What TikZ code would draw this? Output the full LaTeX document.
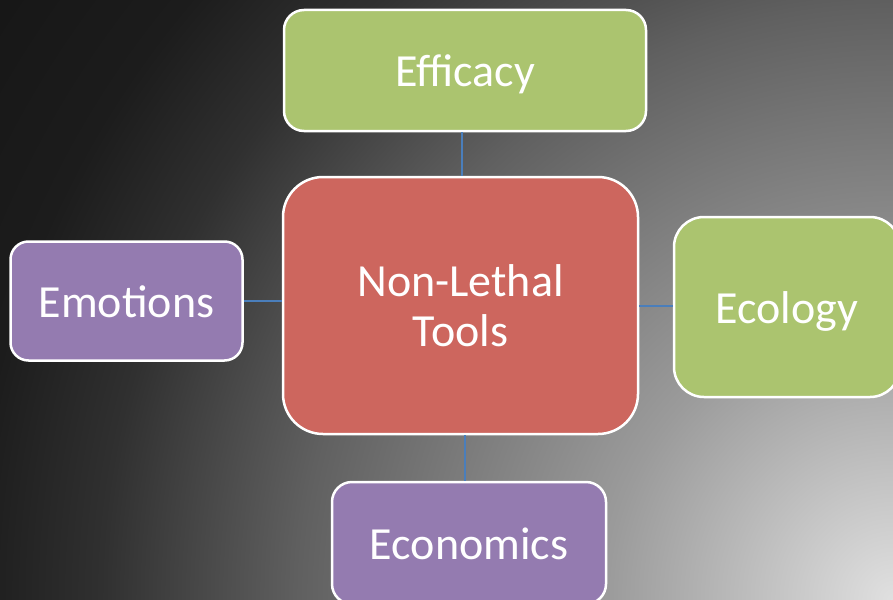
\documentclass[tikz,border=0pt]{standalone}
\usepackage{fontspec}
\setmainfont{Carlito}
\definecolor{boxgreen}{HTML}{ABC46F}
\definecolor{boxred}{HTML}{CD665E}
\definecolor{boxpurple}{HTML}{947BB0}
\definecolor{linkblue}{HTML}{4A7EBB}
\definecolor{g0}{RGB}{224,224,224}
\definecolor{g1}{RGB}{155,155,155}
\definecolor{g2}{RGB}{96,96,96}
\definecolor{g3}{RGB}{48,48,48}
\definecolor{g4}{RGB}{28,28,28}
\definecolor{g5}{RGB}{22,22,22}
\pgfdeclareradialshading{bgshade}{\pgfpoint{0bp}{0bp}}{color(0bp)=(g0); color(6.5bp)=(g1); color(13.5bp)=(g2); color(18bp)=(g3); color(21bp)=(g4); color(25bp)=(g5); color(50bp)=(g5)}
\tikzset{
  box/.style={draw=white, line width=2.5pt, text=white, align=center,
    font=\fontsize{46}{50}\selectfont, inner sep=0pt},
  oneline/.style={text height=36pt, text depth=4pt},
  link/.style={draw=linkblue, line width=2pt}
}
\begin{document}
\begin{tikzpicture}[x=1pt,y=-1pt]
\useasboundingbox (0,0) rectangle (893,599);
\clip (0,0) rectangle (893,599);
\shade[shading=bgshade] (893,599) circle (1100);
\node[box, oneline, fill=boxgreen, rounded corners=20pt, minimum width=362pt, minimum height=121pt] (efficacy) at (465,70.5) {Efficacy};
\node[box, fill=boxred, rounded corners=40pt, minimum width=355pt, minimum height=257pt] (center) at (460.5,305.5) {Non-Lethal\\Tools};
\node[box, oneline, fill=boxpurple, rounded corners=18pt, minimum width=232pt, minimum height=119pt] (emotions) at (126.5,301) {Emotions};
\node[box, oneline, fill=boxgreen, rounded corners=30pt, minimum width=226pt, minimum height=180pt] (ecology) at (787,307) {Ecology};
\node[box, oneline, fill=boxpurple, rounded corners=20pt, minimum width=274pt, minimum height=122pt] (economics) at (469,543) {Economics};
\draw[link] ([xshift=1.5pt]center.north) -- ([xshift=1.5pt]center.north |- efficacy.south);
\draw[link] (emotions.east) -- (emotions.east -| center.west);
\draw[link] (center.east) -- (center.east -| ecology.west);
\draw[link] ([xshift=4.5pt]center.south) -- ([xshift=4.5pt]center.south |- economics.north);
\end{tikzpicture}
\end{document}
